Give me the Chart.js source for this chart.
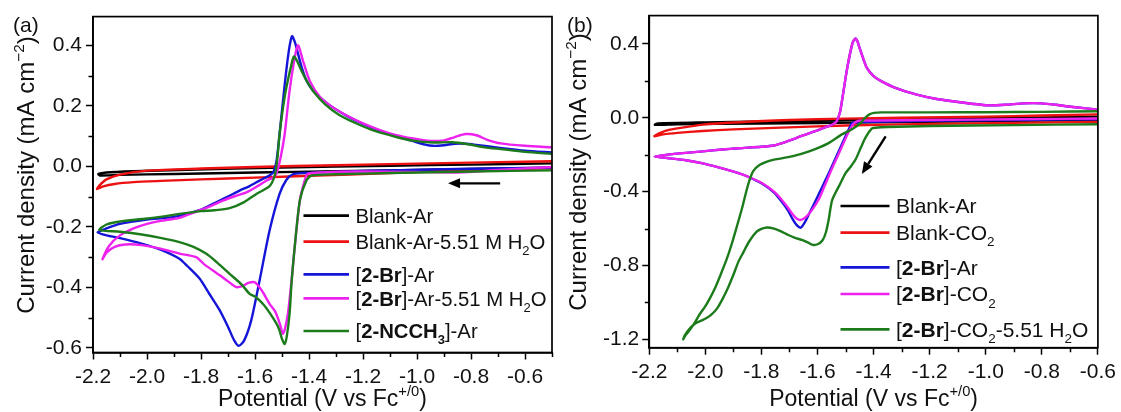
<!DOCTYPE html>
<html>
<head>
<meta charset="utf-8">
<script src="https://cdn.jsdelivr.net/npm/chart.js@4.4.1/dist/chart.umd.min.js"></script>
<style>
  html, body { margin: 0; padding: 0; background: #fff; }
  #wrap { position: relative; width: 1121px; height: 412px; overflow: hidden; }
  canvas { position: absolute; top: 0; }
</style>
</head>
<body>
<div id="wrap">
  <canvas id="cvA" width="560" height="412" style="left:0px"></canvas>
  <canvas id="cvB" width="561" height="412" style="left:560px"></canvas>
</div>
<script>
// ---------- Panel (a): cyclic voltammograms under Ar, [potential V, current density mA cm^-2] ----------
const blankArA = [[-0.5,-0.004],[-0.9,-0.010],[-1.3,-0.016],[-1.6,-0.020],[-1.9,-0.025],[-2.1,-0.028],[-2.175,-0.030],[-2.18,-0.025],[-2.15,-0.020],[-2.05,-0.016],[-1.85,-0.011],[-1.5,-0.004],[-1.1,0.002],[-0.8,0.006],[-0.5,0.010]];

const blankWaterA = [[-0.5,-0.006],[-0.8,-0.012],[-1.1,-0.022],[-1.4,-0.031],[-1.6,-0.037],[-1.8,-0.043],[-1.95,-0.048],[-2.05,-0.052],[-2.12,-0.058],[-2.165,-0.067],[-2.185,-0.075],[-2.175,-0.062],[-2.15,-0.043],[-2.1,-0.027],[-2.0,-0.014],[-1.8,-0.007],[-1.6,-0.002],[-1.3,0.004],[-1.0,0.009],[-0.7,0.014],[-0.5,0.017]];

const brArA = [[-0.5,-0.004],[-0.8,-0.008],[-1.1,-0.013],[-1.3,-0.018],[-1.42,-0.022],[-1.46,-0.026],[-1.484,-0.045],[-1.509,-0.091],[-1.546,-0.212],[-1.583,-0.377],[-1.614,-0.509],[-1.64,-0.575],[-1.66,-0.593],[-1.677,-0.575],[-1.70,-0.53],[-1.731,-0.475],[-1.77,-0.42],[-1.806,-0.37],[-1.85,-0.33],[-1.88,-0.305],[-1.95,-0.275],[-2.02,-0.255],[-2.1,-0.237],[-2.15,-0.228],[-2.183,-0.218],[-2.15,-0.205],[-2.1,-0.19],[-2.0,-0.176],[-1.9,-0.167],[-1.8,-0.143],[-1.756,-0.124],[-1.70,-0.1],[-1.657,-0.08],[-1.62,-0.065],[-1.583,-0.047],[-1.55,-0.032],[-1.533,-0.02],[-1.52,0.02],[-1.509,0.107],[-1.49,0.27],[-1.475,0.38],[-1.463,0.43],[-1.452,0.41],[-1.44,0.37],[-1.428,0.33],[-1.41,0.285],[-1.385,0.25],[-1.355,0.225],[-1.32,0.2],[-1.26,0.167],[-1.2,0.14],[-1.137,0.117],[-1.08,0.1],[-1.02,0.085],[-0.97,0.072],[-0.94,0.068],[-0.9,0.07],[-0.86,0.075],[-0.82,0.075],[-0.78,0.071],[-0.7,0.062],[-0.6,0.052],[-0.5,0.046]];

const brWaterA = [[-0.5,-0.002],[-0.7,-0.012],[-0.85,-0.02],[-1.0,-0.018],[-1.2,-0.017],[-1.35,-0.02],[-1.405,-0.025],[-1.416,-0.047],[-1.434,-0.113],[-1.453,-0.267],[-1.465,-0.38],[-1.478,-0.487],[-1.49,-0.54],[-1.497,-0.553],[-1.508,-0.52],[-1.525,-0.48],[-1.546,-0.454],[-1.575,-0.41],[-1.601,-0.383],[-1.625,-0.385],[-1.645,-0.395],[-1.669,-0.399],[-1.7,-0.38],[-1.73,-0.36],[-1.756,-0.344],[-1.79,-0.322],[-1.818,-0.30],[-1.88,-0.288],[-1.95,-0.272],[-2.02,-0.26],[-2.08,-0.258],[-2.12,-0.266],[-2.15,-0.285],[-2.165,-0.307],[-2.14,-0.262],[-2.1,-0.228],[-2.05,-0.205],[-2.0,-0.19],[-1.95,-0.18],[-1.88,-0.17],[-1.82,-0.15],[-1.78,-0.137],[-1.719,-0.113],[-1.67,-0.097],[-1.632,-0.086],[-1.59,-0.065],[-1.558,-0.047],[-1.535,-0.038],[-1.521,-0.025],[-1.505,0.03],[-1.49,0.107],[-1.472,0.25],[-1.453,0.359],[-1.441,0.40],[-1.432,0.38],[-1.422,0.348],[-1.397,0.282],[-1.36,0.23],[-1.32,0.2],[-1.26,0.168],[-1.2,0.142],[-1.137,0.12],[-1.08,0.104],[-1.015,0.092],[-0.96,0.085],[-0.9,0.086],[-0.86,0.097],[-0.82,0.107],[-0.78,0.103],[-0.74,0.088],[-0.69,0.076],[-0.6,0.068],[-0.5,0.063]];

const ncchArA = [[-0.5,-0.013],[-0.8,-0.017],[-1.1,-0.022],[-1.3,-0.026],[-1.39,-0.03],[-1.41,-0.047],[-1.434,-0.113],[-1.453,-0.267],[-1.465,-0.39],[-1.472,-0.487],[-1.482,-0.56],[-1.49,-0.587],[-1.5,-0.57],[-1.51,-0.54],[-1.521,-0.519],[-1.545,-0.485],[-1.571,-0.454],[-1.6,-0.43],[-1.62,-0.421],[-1.65,-0.39],[-1.694,-0.355],[-1.74,-0.318],[-1.78,-0.289],[-1.83,-0.265],[-1.88,-0.25],[-1.95,-0.236],[-2.02,-0.225],[-2.1,-0.216],[-2.176,-0.21],[-2.15,-0.192],[-2.1,-0.182],[-2.017,-0.174],[-1.95,-0.167],[-1.88,-0.157],[-1.8,-0.148],[-1.75,-0.145],[-1.694,-0.138],[-1.64,-0.118],[-1.595,-0.091],[-1.546,-0.065],[-1.527,-0.03],[-1.518,0.02],[-1.509,0.107],[-1.497,0.19],[-1.484,0.26],[-1.465,0.337],[-1.456,0.363],[-1.445,0.35],[-1.43,0.32],[-1.41,0.285],[-1.381,0.245],[-1.34,0.205],[-1.288,0.17],[-1.22,0.14],[-1.156,0.117],[-1.08,0.098],[-1.015,0.085],[-0.94,0.079],[-0.87,0.08],[-0.816,0.074],[-0.75,0.063],[-0.69,0.057],[-0.6,0.048],[-0.5,0.041]];

// ---------- Panel (b): cyclic voltammograms under Ar / CO2 ----------
const blankArB = [[-0.6,-0.012],[-1.0,-0.018],[-1.4,-0.025],[-1.8,-0.031],[-2.1,-0.035],[-2.18,-0.038],[-2.17,-0.031],[-2.0,-0.025],[-1.6,-0.015],[-1.2,-0.006],[-0.8,0.002],[-0.6,0.006]];

const blankCO2B = [[-0.6,-0.022],[-0.9,-0.028],[-1.2,-0.033],[-1.5,-0.042],[-1.755,-0.055],[-1.9,-0.063],[-2.01,-0.072],[-2.1,-0.082],[-2.15,-0.09],[-2.182,-0.1],[-2.165,-0.085],[-2.13,-0.066],[-2.06,-0.048],[-2.0,-0.036],[-1.85,-0.022],[-1.7,-0.012],[-1.5,-0.005],[-1.3,0.0],[-1.0,0.006],[-0.8,0.012],[-0.6,0.018]];

const brArB = [[-0.6,-0.008],[-0.9,-0.012],[-1.2,-0.017],[-1.4,-0.022],[-1.465,-0.024],[-1.477,-0.03],[-1.5,-0.1],[-1.53,-0.2],[-1.56,-0.3],[-1.585,-0.38],[-1.606,-0.447],[-1.63,-0.52],[-1.645,-0.565],[-1.66,-0.595],[-1.675,-0.58],[-1.69,-0.545],[-1.704,-0.505],[-1.73,-0.45],[-1.755,-0.405],[-1.8,-0.355],[-1.85,-0.318],[-1.882,-0.3],[-1.95,-0.27],[-2.009,-0.247],[-2.07,-0.23],[-2.136,-0.218],[-2.181,-0.21],[-2.136,-0.2],[-2.07,-0.19],[-2.009,-0.182],[-1.94,-0.172],[-1.882,-0.165],[-1.8,-0.157],[-1.755,-0.15],[-1.72,-0.135],[-1.691,-0.119],[-1.66,-0.1],[-1.628,-0.083],[-1.6,-0.068],[-1.564,-0.047],[-1.545,-0.035],[-1.532,-0.02],[-1.52,0.03],[-1.513,0.089],[-1.494,0.27],[-1.475,0.405],[-1.465,0.429],[-1.458,0.415],[-1.45,0.378],[-1.437,0.32],[-1.424,0.27],[-1.4,0.225],[-1.373,0.198],[-1.32,0.16],[-1.246,0.125],[-1.18,0.103],[-1.119,0.089],[-1.05,0.076],[-0.992,0.067],[-0.93,0.07],[-0.865,0.078],[-0.8,0.078],[-0.75,0.07],[-0.712,0.062],[-0.65,0.052],[-0.6,0.044]];

const brCO2B = [[-0.6,-0.004],[-0.9,-0.008],[-1.2,-0.012],[-1.4,-0.015],[-1.452,-0.016],[-1.47,-0.03],[-1.49,-0.08],[-1.52,-0.18],[-1.55,-0.28],[-1.575,-0.37],[-1.595,-0.44],[-1.62,-0.5],[-1.64,-0.535],[-1.659,-0.553],[-1.675,-0.545],[-1.69,-0.52],[-1.704,-0.49],[-1.73,-0.44],[-1.755,-0.4],[-1.8,-0.352],[-1.85,-0.318],[-1.882,-0.3],[-1.95,-0.27],[-2.009,-0.247],[-2.07,-0.23],[-2.136,-0.218],[-2.181,-0.21],[-2.136,-0.2],[-2.07,-0.19],[-2.009,-0.182],[-1.94,-0.172],[-1.882,-0.165],[-1.8,-0.157],[-1.755,-0.15],[-1.72,-0.135],[-1.691,-0.119],[-1.66,-0.1],[-1.628,-0.083],[-1.6,-0.068],[-1.564,-0.047],[-1.545,-0.035],[-1.532,-0.02],[-1.52,0.03],[-1.513,0.089],[-1.494,0.27],[-1.475,0.405],[-1.465,0.429],[-1.458,0.415],[-1.45,0.378],[-1.437,0.32],[-1.424,0.27],[-1.4,0.225],[-1.373,0.198],[-1.32,0.16],[-1.246,0.125],[-1.18,0.103],[-1.119,0.089],[-1.05,0.076],[-0.992,0.067],[-0.93,0.07],[-0.865,0.078],[-0.8,0.078],[-0.75,0.07],[-0.712,0.062],[-0.65,0.052],[-0.6,0.044]];

const brCO2WaterB = [[-0.6,-0.035],[-0.9,-0.04],[-1.2,-0.045],[-1.35,-0.05],[-1.395,-0.054],[-1.406,-0.058],[-1.428,-0.105],[-1.445,-0.16],[-1.464,-0.225],[-1.482,-0.265],[-1.5,-0.3],[-1.52,-0.36],[-1.548,-0.447],[-1.56,-0.55],[-1.57,-0.62],[-1.582,-0.663],[-1.6,-0.685],[-1.617,-0.688],[-1.635,-0.675],[-1.653,-0.663],[-1.68,-0.65],[-1.704,-0.635],[-1.73,-0.615],[-1.755,-0.6],[-1.78,-0.594],[-1.8,-0.602],[-1.818,-0.618],[-1.844,-0.67],[-1.865,-0.73],[-1.882,-0.779],[-1.9,-0.85],[-1.92,-0.923],[-1.94,-0.985],[-1.958,-1.032],[-1.978,-1.065],[-1.997,-1.086],[-2.015,-1.098],[-2.035,-1.113],[-2.055,-1.14],[-2.073,-1.177],[-2.079,-1.2],[-2.07,-1.175],[-2.06,-1.158],[-2.04,-1.115],[-2.022,-1.068],[-2.0,-1.02],[-1.984,-0.978],[-1.965,-0.92],[-1.946,-0.851],[-1.925,-0.77],[-1.907,-0.688],[-1.887,-0.585],[-1.869,-0.489],[-1.856,-0.41],[-1.844,-0.345],[-1.83,-0.29],[-1.806,-0.255],[-1.78,-0.237],[-1.755,-0.227],[-1.691,-0.209],[-1.63,-0.182],[-1.564,-0.14],[-1.513,-0.09],[-1.477,-0.062],[-1.455,-0.04],[-1.441,-0.02],[-1.43,0.0],[-1.415,0.018],[-1.399,0.026],[-1.373,0.029],[-1.2,0.029],[-1.0,0.03],[-0.8,0.032],[-0.6,0.035]];

// ---------- Legend labels (** bold **, _x subscript, ^{..} superscript) ----------
const legendA = ['Blank-Ar', 'Blank-Ar-5.51 M H_2O', '[**2-Br**]-Ar', '[**2-Br**]-Ar-5.51 M H_2O', '[**2-NCCH_3**]-Ar'];
const legendB = ['Blank-Ar', 'Blank-CO_2', '[**2-Br**]-Ar', '[**2-Br**]-CO_2', '[**2-Br**]-CO_2-5.51 H_2O'];
const seriesColors = ['#000000', '#ee1111', '#1515d8', '#ee22ee', '#1c7c1c'];

// ---------- Tick values ----------
const xMajorA = [-2.2, -2.0, -1.8, -1.6, -1.4, -1.2, -1.0, -0.8, -0.6];
const xMinorA = [-2.1, -1.9, -1.7, -1.5, -1.3, -1.1, -0.9, -0.7, -0.5];
const yMajorA = [-0.6, -0.4, -0.2, 0.0, 0.2, 0.4];
const yMinorA = [-0.5, -0.3, -0.1, 0.1, 0.3];
const xMajorB = [-2.2, -2.0, -1.8, -1.6, -1.4, -1.2, -1.0, -0.8, -0.6];
const xMinorB = [-2.1, -1.9, -1.7, -1.5, -1.3, -1.1, -0.9, -0.7];
const yMajorB = [-1.2, -0.8, -0.4, 0.0, 0.4];
const yMinorB = [-1.0, -0.6, -0.2, 0.2];

// Scan-direction arrows: [start, end] in data units
const arrowA = [[-0.692, -0.056], [-0.885, -0.056]];
const arrowB = [[-1.357, -0.101], [-1.442, -0.305]];

const FONT = "'Liberation Sans', Arial, Helvetica, sans-serif";

function parseRich(s) {
  const segs = [];
  let bold = false, buf = '', i = 0;
  const push = (t, mode) => { if (t) segs.push({ t, bold, mode }); };
  while (i < s.length) {
    if (s.startsWith('**', i)) { push(buf, 'n'); buf = ''; bold = !bold; i += 2; continue; }
    if (s[i] === '_' || s[i] === '^') {
      push(buf, 'n'); buf = '';
      const mode = s[i] === '_' ? 'sub' : 'sup';
      i++;
      let t;
      if (s[i] === '{') { const j = s.indexOf('}', i); t = s.slice(i + 1, j); i = j + 1; }
      else { t = s[i]; i++; }
      push(t, mode);
      continue;
    }
    buf += s[i]; i++;
  }
  push(buf, 'n');
  return segs;
}

function richFont(g, size) {
  const fs = g.mode === 'n' ? size : size * 0.64;
  return (g.bold ? 'bold ' : '') + fs + 'px ' + FONT;
}

function richWidth(ctx, segs, size) {
  let w = 0;
  for (const g of segs) { ctx.font = richFont(g, size); w += ctx.measureText(g.t).width; }
  return w;
}

function drawRich(ctx, segs, x, y, size) {
  ctx.textBaseline = 'alphabetic';
  ctx.textAlign = 'left';
  for (const g of segs) {
    ctx.font = richFont(g, size);
    const dy = g.mode === 'sub' ? size * 0.30 : g.mode === 'sup' ? -size * 0.42 : 0;
    ctx.fillText(g.t, x, y + dy);
    x += ctx.measureText(g.t).width;
  }
  return x;
}

function makeDecor(cfg) {
  return {
    id: 'decor',
    afterDraw(chart) {
      const ctx = chart.ctx, a = chart.chartArea;
      const xs = chart.scales.x, ys = chart.scales.y;
      ctx.save();
      // frame
      ctx.strokeStyle = '#000';
      ctx.lineWidth = 1.7;
      ctx.strokeRect(a.left, a.top, a.right - a.left, a.bottom - a.top);
      // minor ticks
      ctx.lineWidth = 1.5;
      ctx.beginPath();
      cfg.xMinor.forEach(v => {
        const px = Math.round(xs.getPixelForValue(v)) + 0.5;
        ctx.moveTo(px, a.bottom); ctx.lineTo(px, a.bottom + 4.5);
      });
      cfg.yMinor.forEach(v => {
        const py = Math.round(ys.getPixelForValue(v)) + 0.5;
        ctx.moveTo(a.left, py); ctx.lineTo(a.left - 4.5, py);
      });
      ctx.stroke();

      // arrow
      const p0 = [xs.getPixelForValue(cfg.arrow[0][0]), ys.getPixelForValue(cfg.arrow[0][1])];
      const p1 = [xs.getPixelForValue(cfg.arrow[1][0]), ys.getPixelForValue(cfg.arrow[1][1])];
      const ang = Math.atan2(p1[1] - p0[1], p1[0] - p0[0]);
      const hl = 12, hw = 5;
      const bx = p1[0] - hl * Math.cos(ang), by = p1[1] - hl * Math.sin(ang);
      ctx.strokeStyle = '#000'; ctx.fillStyle = '#000'; ctx.lineWidth = 2.4;
      ctx.beginPath(); ctx.moveTo(p0[0], p0[1]); ctx.lineTo(bx, by); ctx.stroke();
      ctx.beginPath();
      ctx.moveTo(p1[0], p1[1]);
      ctx.lineTo(bx + hw * Math.sin(ang), by - hw * Math.cos(ang));
      ctx.lineTo(bx - hw * Math.sin(ang), by + hw * Math.cos(ang));
      ctx.closePath(); ctx.fill();

      // legend
      ctx.fillStyle = '#111';
      cfg.legend.forEach((lab, i) => {
        const y = cfg.legendRows[i];
        ctx.strokeStyle = chart.data.datasets[i].borderColor;
        ctx.lineWidth = 2.7;
        ctx.beginPath(); ctx.moveTo(cfg.legendLine[0], y); ctx.lineTo(cfg.legendLine[1], y); ctx.stroke();
        drawRich(ctx, parseRich(lab), cfg.legendText, y + 7.3, cfg.legendSize);
      });

      // axis titles
      const xt = parseRich(cfg.xTitle);
      const xw = richWidth(ctx, xt, cfg.xTitleSize);
      drawRich(ctx, xt, (a.left + a.right) / 2 - xw / 2, cfg.xTitleY, cfg.xTitleSize);
      const yt = parseRich(cfg.yTitle);
      const yw = richWidth(ctx, yt, cfg.yTitleSize);
      ctx.save();
      ctx.translate(cfg.yTitleX, cfg.yTitleC);
      ctx.rotate(-Math.PI / 2);
      drawRich(ctx, yt, -yw / 2, 0, cfg.yTitleSize);
      ctx.restore();

      // panel label
      ctx.font = '21px ' + FONT;
      ctx.textAlign = 'left'; ctx.textBaseline = 'alphabetic';
      ctx.fillText(cfg.panel, cfg.panelPos[0], cfg.panelPos[1]);
      ctx.restore();
    }
  };
}

function buildChart(canvasId, series, order, xr, yr, xMajor, yMajor, layout, decor) {
  const datasets = series.map((pts, i) => ({
    data: pts.map(p => ({ x: p[0], y: p[1] })),
    borderColor: seriesColors[i],
    borderWidth: 2.4,
    showLine: true,
    pointRadius: 0,
    tension: 0.25,
    fill: false,
    order: order[i]
  }));
  const axisCommon = {
    type: 'linear',
    grid: { display: true, drawOnChartArea: false, drawTicks: true, tickLength: 7, tickWidth: 1.5, tickColor: '#000' },
    border: { display: true, color: '#000', width: 1.7 }
  };
  return new Chart(document.getElementById(canvasId), {
    type: 'scatter',
    data: { datasets },
    options: {
      responsive: false,
      animation: false,
      events: [],
      layout: { padding: layout.padding },
      plugins: { legend: { display: false }, tooltip: { enabled: false }, title: { display: false } },
      scales: {
        x: Object.assign({}, axisCommon, {
          min: xr[0], max: xr[1],
          afterBuildTicks: s => { s.ticks = xMajor.map(v => ({ value: v })); },
          afterFit: s => { s.height = layout.xHeight; },
          ticks: { color: '#111', font: { family: FONT, size: 21 }, padding: layout.xPad, maxRotation: 0, autoSkip: false,
                   callback: v => Number(v).toFixed(1) }
        }),
        y: Object.assign({}, axisCommon, {
          min: yr[0], max: yr[1],
          afterBuildTicks: s => { s.ticks = yMajor.map(v => ({ value: v })); },
          afterFit: s => { s.width = layout.yWidth; },
          ticks: { color: '#111', font: { family: FONT, size: 21 }, padding: layout.yPad, autoSkip: false,
                   callback: v => Number(v).toFixed(1) }
        })
      }
    },
    plugins: [makeDecor(decor)]
  });
}

buildChart('cvA',
  [blankArA, blankWaterA, brArA, brWaterA, ncchArA],
  [4, 3, 2, 1, 0],
  [-2.2, -0.5], [-0.615, 0.495], xMajorA, yMajorA,
  { padding: { top: 16, right: 8, left: 0, bottom: 0 }, xHeight: 59.5, yWidth: 93, xPad: 5, yPad: 4 },
  { xMinor: xMinorA, yMinor: yMinorA, arrow: arrowA, legend: legendA,
    legendRows: [215.7, 241.7, 274.3, 298.3, 331], legendLine: [303.5, 349], legendText: 355.5, legendSize: 20.3,
    xTitle: 'Potential (V vs Fc^{+/0})', yTitle: 'Current density (mA cm^{\u22122})', xTitleSize: 23, yTitleSize: 24,
    xTitleY: 406, yTitleX: 34, yTitleC: 175, panel: '(a)', panelPos: [13, 32] });

buildChart('cvB',
  [blankArB, blankCO2B, brArB, brCO2B, brCO2WaterB],
  [4, 3, 2, 1, 0],
  [-2.2, -0.6], [-1.245, 0.553], xMajorB, yMajorB,
  { padding: { top: 15, right: 21.7, left: 0, bottom: 0 }, xHeight: 64.3, yWidth: 89.3, xPad: 5, yPad: 3 },
  { xMinor: xMinorB, yMinor: yMinorB, arrow: arrowB, legend: legendB,
    legendRows: [206, 232.7, 267.3, 294, 329.3], legendLine: [280.5, 329.5], legendText: 336, legendSize: 21,
    xTitle: 'Potential (V vs Fc^{+/0})', yTitle: 'Current density (mA cm^{\u22122})', xTitleSize: 23, yTitleSize: 24,
    xTitleY: 406, yTitleX: 26, yTitleC: 172, panel: '(b)', panelPos: [7, 32] });
</script>
</body>
</html>
